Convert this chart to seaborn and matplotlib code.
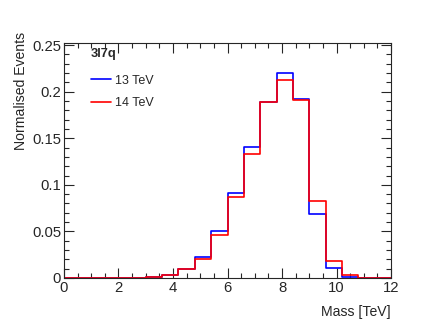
import numpy as np
import matplotlib
matplotlib.use("Agg")
import matplotlib.pyplot as plt
import seaborn as sns
from matplotlib.ticker import MultipleLocator

# ---- data ----
bin_edges = [round(0.6 * i, 1) for i in range(21)]
bin_centres = [0.3, 0.9, 1.5, 2.1, 2.7, 3.3, 3.9, 4.5, 5.1, 5.7,
               6.3, 6.9, 7.5, 8.1, 8.7, 9.3, 9.9, 10.5, 11.1, 11.7]
events_13tev = [0, 0, 0, 0, 0, 0.0005, 0.0032, 0.0093, 0.0230, 0.0505,
                0.0907, 0.1404, 0.1890, 0.2196, 0.1923, 0.0688, 0.0108, 0.0015, 0, 0]
events_14tev = [0, 0, 0, 0, 0, 0.0005, 0.0032, 0.0093, 0.0208, 0.0466,
                0.0870, 0.1329, 0.1890, 0.2127, 0.1909, 0.0827, 0.0183, 0.0036, 0.0003, 0]
series_labels = ["13 TeV", "14 TeV"]
legend_title = "3l7q"

# ---- style ----
sns.set_style("ticks")
plt.rcParams["font.family"] = ["Liberation Sans", "DejaVu Sans"]

fig = plt.figure(figsize=(4.35, 3.27), dpi=100)
ax = fig.add_axes([0.147, 0.150, 0.752, 0.719])

sns.histplot(x=bin_centres, weights=events_13tev, bins=bin_edges, element="step",
             fill=False, color="blue", linewidth=1.2, label=series_labels[0], ax=ax)
sns.histplot(x=bin_centres, weights=events_14tev, bins=bin_edges, element="step",
             fill=False, color="red", linewidth=1.2, label=series_labels[1], ax=ax)

ax.set_xlim(0, 12)
ax.set_ylim(0, 0.2525)

ax.xaxis.set_major_locator(MultipleLocator(2))
ax.xaxis.set_minor_locator(MultipleLocator(0.5))
ax.yaxis.set_minor_locator(MultipleLocator(0.01))
ax.set_yticks([0, 0.05, 0.1, 0.15, 0.2, 0.25])
ax.set_yticklabels(["0", "0.05", "0.1", "0.15", "0.2", "0.25"])
ax.tick_params(which="both", direction="in", top=True, right=True, labelsize=10.7, width=0.8)
ax.tick_params(which="major", length=7)
ax.tick_params(which="minor", length=3.5)
ax.tick_params(axis="x", pad=2)
ax.tick_params(axis="y", pad=2)
for s in ax.spines.values():
    s.set_linewidth(0.8)

ax.set_xlabel("Mass [TeV]", fontsize=10.1, ha="right")
ax.xaxis.set_label_coords(1.0, -0.115)
ax.set_ylabel("Normalised Events", fontsize=10.1, ha="right")
ax.yaxis.set_label_coords(-0.11, 1.045)

leg = ax.legend(title=legend_title, loc="upper left", bbox_to_anchor=(0.055, 1.017),
                frameon=False, fontsize=9, handlelength=1.6, handletextpad=0.35,
                labelspacing=0.85, borderpad=0.2, alignment="left")
leg.get_title().set_fontweight("bold")
leg.get_title().set_fontsize(9.3)
leg._legend_box.sep = 11

fig.savefig("out.png", dpi=100)
